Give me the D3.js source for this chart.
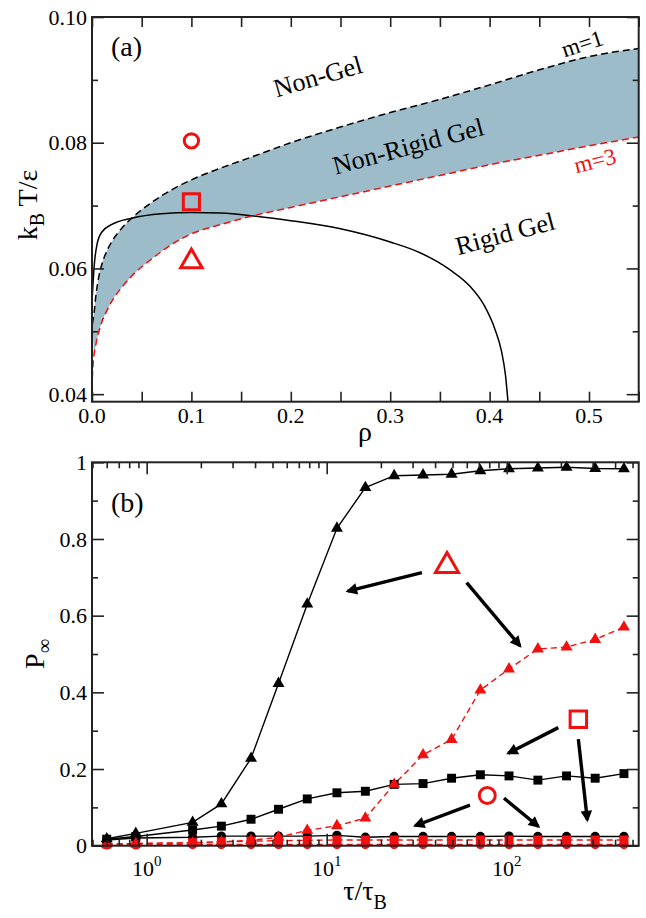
<!DOCTYPE html>
<html>
<head>
<meta charset="utf-8">
<script src="https://cdn.jsdelivr.net/npm/d3@7"></script>
<style>
  body { margin: 0; background: #fff; }
</style>
</head>
<body>
<div id="vis"></div>
<script>
// ---- panel (a): phase diagram ----
const rhoGrid   = [0.002, 0.004, 0.007, 0.01, 0.015, 0.02, 0.03, 0.04, 0.06, 0.08, 0.10, 0.13, 0.16, 0.20, 0.25, 0.30, 0.35, 0.40, 0.45, 0.50, 0.55];
const tempM1    = [0.0528, 0.0558, 0.0588, 0.0607, 0.0628, 0.0643, 0.0664, 0.0680, 0.0705, 0.0725, 0.0741, 0.0760, 0.0777, 0.0800, 0.0825, 0.0848, 0.0869, 0.0892, 0.0916, 0.0937, 0.0950];
const tempM3    = [0.0462, 0.0480, 0.0500, 0.0515, 0.0533, 0.0548, 0.0570, 0.0588, 0.0615, 0.0638, 0.0655, 0.0670, 0.0683, 0.0697, 0.0714, 0.0731, 0.0748, 0.0765, 0.0780, 0.0795, 0.0809];
const rhoRigid  = [0.0003, 0.002, 0.005, 0.01, 0.02, 0.04, 0.07, 0.10, 0.13, 0.16, 0.20, 0.25, 0.30, 0.33, 0.36, 0.38, 0.395, 0.405, 0.412, 0.416, 0.4185];
const tempRigid = [0.0555, 0.0600, 0.0638, 0.0658, 0.0670, 0.0680, 0.0687, 0.0689, 0.0688, 0.0684, 0.0676, 0.0663, 0.0642, 0.0625, 0.0598, 0.0572, 0.0540, 0.0505, 0.0468, 0.0430, 0.0388];
const m1Tail    = [[0.0004, 0.0512]];
const m3Tail    = [[0.0003, 0.0425], [0.001, 0.0445]];
const stateRho   = [0.1, 0.1, 0.1];
const stateTemp  = [0.0803, 0.0706, 0.0611];
const stateShape = ['circle', 'square', 'triangle'];
const aLabels = [
  {text: 'Non-Gel',       rho: 0.227, t: 0.0906, rot: -16, size: 26, color: '#000'},
  {text: 'Non-Rigid Gel', rho: 0.318, t: 0.0795, rot: -15, size: 26, color: '#000'},
  {text: 'Rigid Gel',     rho: 0.4155, t: 0.0656, rot: -15, size: 26, color: '#000'},
  {text: 'm=1',           rho: 0.493, t: 0.0958, rot: -18, size: 23, color: '#000'},
  {text: 'm=3',           rho: 0.506, t: 0.0772, rot: -14, size: 23, color: '#f01010'}
];

// ---- panel (b): P_inf vs tau ----
const tau       = [0.6, 0.87, 1.8, 2.6, 3.8, 5.4, 7.8, 11.4, 16.4, 23.7, 34.3, 49.4, 71.4, 103, 149, 215, 310, 448];
const blackTri  = [0.018, 0.032, 0.061, 0.109, 0.228, 0.423, 0.630, 0.828, 0.934, 0.965, 0.967, 0.969, 0.978, 0.983, 0.985, 0.987, 0.984, 0.983];
const blackSq   = [0.017, 0.024, 0.041, 0.051, 0.069, 0.095, 0.122, 0.138, 0.142, 0.160, 0.162, 0.176, 0.185, 0.182, 0.171, 0.182, 0.176, 0.188];
const blackCirc = [0.015, 0.020, 0.022, 0.025, 0.025, 0.025, 0.025, 0.027, 0.022, 0.024, 0.024, 0.024, 0.024, 0.025, 0.024, 0.024, 0.024, 0.024];
const redTri    = [0.004, 0.005, 0.007, 0.010, 0.014, 0.022, 0.040, 0.052, 0.072, 0.160, 0.237, 0.277, 0.406, 0.461, 0.513, 0.518, 0.538, 0.570];
const redSq     = [0.004, 0.006, 0.008, 0.010, 0.012, 0.013, 0.014, 0.015, 0.015, 0.015, 0.015, 0.015, 0.015, 0.015, 0.015, 0.015, 0.015, 0.015];
const redCirc   = [0.002, 0.002, 0.003, 0.003, 0.003, 0.003, 0.003, 0.003, 0.003, 0.003, 0.003, 0.003, 0.003, 0.003, 0.003, 0.003, 0.003, 0.003];
const yTicksB   = [0, 0.2, 0.4, 0.6, 0.8, 1];
const bMarks  = [{shape: 'triangle', tau: 46.6, p: 0.730}, {shape: 'square', tau: 250, p: 0.330}, {shape: 'circle', tau: 78, p: 0.131}];
const bArrows = [
  [[33.8, 0.712], [13.1, 0.664]], [[59.9, 0.686], [118.6, 0.521]],
  [[193.5, 0.308], [102, 0.241]], [[250, 0.278], [280.5, 0.067]],
  [[62.5, 0.106], [31, 0.052]],   [[96.6, 0.124], [150, 0.050]]
];

const RED = '#f01010';
const SERIF = "'Liberation Serif', 'Times New Roman', Times, serif";
const svg = d3.select('#vis').append('svg').attr('width', 646).attr('height', 918)
  .attr('font-family', SERIF).style('display', 'block');

const defs = svg.append('defs');
defs.append('marker').attr('id', 'head').attr('viewBox', '0 0 10 10')
  .attr('refX', 8).attr('refY', 5).attr('markerWidth', 4.2).attr('markerHeight', 3.4)
  .attr('markerUnits', 'strokeWidth').attr('orient', 'auto')
  .append('path').attr('d', 'M0,0 L10,5 L0,10 Z').attr('fill', '#000');

function symbolPath(shape, size) {
  const type = shape === 'circle' ? d3.symbolCircle : shape === 'square' ? d3.symbolSquare : d3.symbolTriangle;
  return d3.symbol().type(type).size(size)();
}

// inward ticks on all four sides plus the frame
function frameTicks(g, x, y, xMajor, xMinor, yMajor, yMinor, xLen) {
  const [x0, x1] = x.range(), [y0, y1] = y.range();
  const add = (axis, tr, vals, len) => {
    const a = g.append('g').attr('transform', tr).call(axis.tickValues(vals).tickSize(-len).tickFormat(''));
    a.select('.domain').remove();
    a.selectAll('line').attr('stroke', '#222').attr('stroke-width', 1.6);
  };
  add(d3.axisBottom(x), `translate(0,${y0})`, xMajor, xLen);
  add(d3.axisTop(x), `translate(0,${y1})`, xMajor, xLen);
  add(d3.axisBottom(x), `translate(0,${y0})`, xMinor, 6);
  add(d3.axisTop(x), `translate(0,${y1})`, xMinor, 6);
  add(d3.axisLeft(y), `translate(${x0},0)`, yMajor, 12);
  add(d3.axisRight(y), `translate(${x1},0)`, yMajor, 12);
  add(d3.axisLeft(y), `translate(${x0},0)`, yMinor, 6);
  add(d3.axisRight(y), `translate(${x1},0)`, yMinor, 6);
  g.append('rect').attr('x', x0).attr('y', y1).attr('width', x1 - x0).attr('height', y0 - y1)
    .attr('fill', 'none').attr('stroke', '#222').attr('stroke-width', 2);
}

// ================= panel (a) =================
const xA = d3.scaleLinear().domain([0, 0.55]).range([92, 638.7]);
const yA = d3.scaleLinear().domain([0.0388, 0.10]).range([401.7, 17]);
const gA = svg.append('g');

const clipA = defs.append('clipPath').attr('id', 'clipA');
clipA.append('rect').attr('x', 92).attr('y', 17).attr('width', 546.7).attr('height', 384.7);
const plotA = gA.append('g').attr('clip-path', 'url(#clipA)');

const m1Full = m1Tail.concat(rhoGrid.map((r, i) => [r, tempM1[i]]));
const m3Full = m3Tail.concat(rhoGrid.map((r, i) => [r, tempM3[i]]));

// shaded non-rigid gel band between the m=1 and m=3 lines
const band = d3.area().x((d, i) => xA(rhoGrid[i])).y0((d, i) => yA(tempM3[i])).y1((d, i) => yA(tempM1[i])).curve(d3.curveMonotoneX);
plotA.append('path').datum(rhoGrid).attr('d', band).attr('fill', '#9dbcc9');
plotA.append('path')
  .attr('d', d3.line().x(d => xA(d[0])).y(d => yA(d[1]))([m1Tail[0], [rhoGrid[0], tempM1[0]], [rhoGrid[0], tempM3[0]]]))
  .attr('fill', '#9dbcc9');

const line = d3.line().x(d => xA(d[0])).y(d => yA(d[1])).curve(d3.curveMonotoneX);
const rigidPts = rhoRigid.map((r, i) => [r, tempRigid[i]]);
plotA.append('path').attr('d', line(rigidPts)).attr('fill', 'none').attr('stroke', '#000').attr('stroke-width', 1.5);
plotA.append('path').attr('d', line(m1Full)).attr('fill', 'none').attr('stroke', '#000').attr('stroke-width', 1.5).attr('stroke-dasharray', '7,4');
plotA.append('path').attr('d', line(m3Full)).attr('fill', 'none').attr('stroke', RED).attr('stroke-width', 1.5).attr('stroke-dasharray', '7,4');

stateRho.forEach((r, i) => {
  const shape = stateShape[i];
  const size = shape === 'circle' ? 160 : shape === 'square' ? 260 : 200;
  gA.append('path').attr('d', symbolPath(shape, size))
    .attr('transform', `translate(${xA(r)},${yA(stateTemp[i])})`)
    .attr('fill', 'none').attr('stroke', RED).attr('stroke-width', 3);
});

aLabels.forEach(l => {
  gA.append('text').attr('transform', `translate(${xA(l.rho)},${yA(l.t)}) rotate(${l.rot})`)
    .attr('text-anchor', 'middle').attr('dy', '0.35em').attr('font-size', l.size).attr('fill', l.color).text(l.text);
});

frameTicks(gA, xA, yA, d3.range(0, 0.551, 0.05), [], [0.04, 0.06, 0.08, 0.10], [0.05, 0.07, 0.09], 10);

gA.selectAll('.yl').data([0.04, 0.06, 0.08, 0.10]).enter().append('text')
  .attr('x', 87).attr('y', d => yA(d)).attr('dy', '0.35em').attr('text-anchor', 'end').attr('font-size', 22)
  .text(d3.format('.2f'));
gA.selectAll('.xl').data([0, 0.1, 0.2, 0.3, 0.4, 0.5]).enter().append('text')
  .attr('x', d => xA(d)).attr('y', 423).attr('text-anchor', 'middle').attr('font-size', 22)
  .text(d3.format('.1f'));

gA.append('text').attr('x', 111).attr('y', 56).attr('font-size', 28).text('(a)');
gA.append('text').attr('x', 365).attr('y', 441).attr('text-anchor', 'middle').attr('font-size', 28).text('ρ');
const yTitleA = gA.append('text').attr('transform', 'translate(37,205) rotate(-90)').attr('text-anchor', 'middle').attr('font-size', 28);
yTitleA.append('tspan').text('k');
yTitleA.append('tspan').attr('font-size', 20).attr('dy', 7).text('B');
yTitleA.append('tspan').attr('dy', -7).text(' T/ε');

// ================= panel (b) =================
const xB = d3.scaleLog().domain([0.497, 541]).range([92, 638.7]);
const yB = d3.scaleLinear().domain([0, 1]).range([845.7, 462.3]);
const gB = svg.append('g');

const series = [
  {vals: blackCirc, color: '#000', dash: null, shape: 'circle'},
  {vals: redCirc,   color: RED,    dash: '6,4', shape: 'circle'},
  {vals: redSq,     color: RED,    dash: '6,4', shape: 'square'},
  {vals: blackSq,   color: '#000', dash: null, shape: 'square'},
  {vals: redTri,    color: RED,    dash: '6,4', shape: 'triangle'},
  {vals: blackTri,  color: '#000', dash: null, shape: 'triangle'}
];
const lineB = d3.line().x((d, i) => xB(tau[i])).y(d => yB(d));
series.forEach(s => {
  gB.append('path').datum(s.vals).attr('d', lineB).attr('fill', 'none')
    .attr('stroke', s.color).attr('stroke-width', 1.4).attr('stroke-dasharray', s.dash);
});
series.forEach(s => {
  const size = s.shape === 'circle' ? 68 : s.shape === 'square' ? 80 : 62;
  gB.selectAll(null).data(s.vals).enter().append('path')
    .attr('d', symbolPath(s.shape, size))
    .attr('transform', (d, i) => `translate(${xB(tau[i])},${yB(d)})`)
    .attr('fill', s.color);
});

bMarks.forEach(m => {
  const size = m.shape === 'circle' ? 200 : m.shape === 'square' ? 270 : 230;
  gB.append('path').attr('d', symbolPath(m.shape, size))
    .attr('transform', `translate(${xB(m.tau)},${yB(m.p)})`)
    .attr('fill', 'none').attr('stroke', RED).attr('stroke-width', 3);
});
bArrows.forEach(a => {
  gB.append('line').attr('x1', xB(a[0][0])).attr('y1', yB(a[0][1]))
    .attr('x2', xB(a[1][0])).attr('y2', yB(a[1][1]))
    .attr('stroke', '#000').attr('stroke-width', 3.4).attr('marker-end', 'url(#head)');
});

const minorLog = [];
[0.1, 1, 10, 100].forEach(dec => d3.range(2, 10).forEach(k => {
  const v = dec * k;
  if (v > 0.497 && v < 541) minorLog.push(v);
}));
frameTicks(gB, xB, yB, [1, 10, 100], minorLog, yTicksB, [0.1, 0.3, 0.5, 0.7, 0.9], 12);

gB.selectAll('.yl').data(yTicksB).enter().append('text')
  .attr('x', 87).attr('y', d => yB(d)).attr('dy', '0.35em').attr('text-anchor', 'end').attr('font-size', 22)
  .text(d => d3.format('.1~f')(d));
[1, 10, 100].forEach(v => {
  const t = gB.append('text').attr('x', xB(v)).attr('y', 876).attr('text-anchor', 'middle').attr('font-size', 22);
  t.append('tspan').text('10');
  t.append('tspan').attr('font-size', 15).attr('dy', -10).text(Math.round(Math.log10(v)));
});

gB.append('text').attr('x', 111).attr('y', 512).attr('font-size', 28).text('(b)');
const xTitleB = gB.append('text').attr('x', 365).attr('y', 900).attr('text-anchor', 'middle').attr('font-size', 28);
xTitleB.append('tspan').text('τ/τ');
xTitleB.append('tspan').attr('font-size', 20).attr('dy', 9).text('B');
const yTitleB = gB.append('text').attr('transform', 'translate(44,654) rotate(-90)').attr('text-anchor', 'middle').attr('font-size', 28);
yTitleB.append('tspan').text('P');
yTitleB.append('tspan').attr('font-size', 20).attr('dy', 7).text('∞');
</script>
</body>
</html>
